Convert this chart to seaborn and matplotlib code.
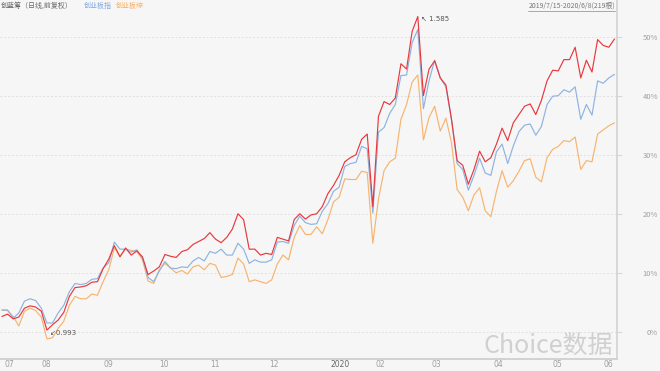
import numpy as np
import pandas as pd
import seaborn as sns
import matplotlib.pyplot as plt
from matplotlib.lines import Line2D

# trading-day index (every 2nd day of the 219 days, 2019/7/15 - 2020/6/8)
day = list(range(0, 219, 2))

# % change since start
red = [
    2.6, 3.0, 2.2, 2.5, 4.0, 4.4, 4.2, 3.5, 0.3, 1.2,
    2.0, 3.3, 6.0, 7.5, 7.6, 7.8, 8.4, 8.5, 10.7, 12.3,
    14.6, 12.7, 14.2, 13.0, 13.7, 12.7, 9.7, 10.3, 11.0, 13.1,
    12.8, 12.6, 13.6, 13.9, 14.8, 15.3, 15.8, 16.8, 15.7, 15.1,
    16.0, 17.4, 20.0, 19.0, 14.0, 14.0, 13.0, 13.3, 13.1, 16.0,
    15.7, 15.4, 19.0, 20.0, 19.1, 19.8, 20.0, 21.2, 23.4, 24.8,
    26.5, 28.8, 29.5, 30.0, 32.6, 33.5, 21.2, 36.5, 39.0, 38.5,
    39.6, 45.4, 44.5, 50.9, 53.4, 40.0, 44.5, 45.9, 43.0, 41.8,
    36.0, 29.0, 28.2, 25.0, 27.5, 30.6, 28.8, 29.5, 31.8, 34.5,
    32.4, 35.4, 36.8, 38.2, 38.6, 36.8, 39.2, 42.5, 44.3, 44.2,
    46.1, 46.1, 48.2, 43.0, 46.0, 44.0, 49.5, 48.5, 48.2, 49.6,
]
blue = [
    3.7, 3.7, 2.3, 3.2, 5.2, 5.6, 5.3, 4.0, 1.5, 1.5,
    3.2, 4.5, 6.8, 8.2, 8.0, 8.2, 8.9, 9.0, 10.8, 11.7,
    15.2, 14.0, 14.0, 13.5, 13.9, 12.5, 9.2, 8.5, 10.3, 11.9,
    10.8, 10.7, 11.0, 10.9, 12.0, 12.6, 12.0, 13.6, 13.3, 14.0,
    13.0, 13.0, 15.0, 14.0, 11.6, 12.2, 11.8, 11.8, 12.2, 15.2,
    15.3, 15.0, 18.0, 19.6, 18.5, 18.2, 18.3, 20.4, 21.7, 23.8,
    24.5, 28.0, 28.5, 28.7, 31.4, 31.0, 20.1, 33.8, 34.6, 37.0,
    38.5, 43.4, 43.5, 49.0, 51.2, 37.8, 42.5, 46.0, 43.0, 41.5,
    35.9, 28.5, 27.5, 24.0, 26.5, 29.4, 26.9, 26.5, 30.5, 31.8,
    28.5, 31.5, 33.9, 35.0, 35.2, 33.3, 34.8, 38.5, 39.9, 40.0,
    41.0, 40.6, 41.5, 36.0, 38.5, 36.7, 42.5, 42.1, 43.0, 43.6,
]
orange = [
    3.7, 3.6, 2.6, 1.0, 3.5, 4.0, 3.6, 2.5, -1.2, -1.0,
    0.6, 1.8, 4.5, 6.0, 5.6, 5.6, 6.4, 6.2, 8.5, 10.5,
    14.2, 12.8, 14.0, 13.8, 13.6, 12.2, 8.6, 8.2, 10.5, 11.6,
    10.8, 10.0, 10.4, 9.8, 11.0, 11.3, 10.5, 11.6, 11.3, 9.2,
    9.4, 9.7, 12.5, 11.5, 8.5, 8.8, 8.5, 8.2, 8.8, 11.5,
    13.0, 12.2, 16.0, 18.0, 16.5, 16.5, 17.8, 16.6, 19.0, 22.0,
    22.8, 25.9, 25.8, 25.8, 27.2, 27.0, 15.0, 22.5, 27.3, 28.8,
    29.4, 36.0, 38.5, 42.3, 43.5, 32.5, 36.3, 38.2, 34.0, 36.2,
    32.0, 24.1, 22.8, 20.5, 23.2, 24.4, 20.5, 19.5, 23.8, 27.3,
    24.5, 25.6, 27.2, 29.0, 29.3, 26.2, 25.4, 29.5, 30.9, 31.4,
    32.4, 32.2, 33.0, 27.5, 29.0, 28.8, 33.5, 34.2, 34.9, 35.4,
]

colors = {"创蓝筹": "#e8383d", "创业板指": "#8db3e2", "创业板综": "#f7b46e"}

month_idx = [0, 13, 35, 55, 73, 94, 116, 132, 152, 174, 195, 213]
month_labels = ["07", "08", "09", "10", "11", "12", "2020", "02", "03", "04", "05", "06"]
pct_ticks = [0, 10, 20, 30, 40, 50]

df = pd.DataFrame({
    "day": day * 3,
    "pct": orange + blue + red,
    "series": ["创业板综"] * len(day) + ["创业板指"] * len(day) + ["创蓝筹"] * len(day),
})

sns.set_style("white")
plt.rcParams['font.family'] = ['Noto Sans CJK SC', 'DejaVu Sans']
bg = "#f6f6f6"

fig = plt.figure(figsize=(6.6, 3.71), dpi=100, facecolor=bg)
ax = fig.add_axes([0, 12 / 371, 617 / 660, 359 / 371])
ax.set_facecolor(bg)

sns.lineplot(data=df, x="day", y="pct", hue="series",
             hue_order=["创业板综", "创业板指", "创蓝筹"], palette=colors,
             linewidth=0.85, legend=False, estimator=None, sort=False, ax=ax)

ax.set_xlim(-0.7, 218.9)
ax.set_ylim(-4.6, 56.2)
ax.set_xlabel("")
ax.set_ylabel("")

for s in ["top", "left"]:
    ax.spines[s].set_visible(False)
ax.spines["bottom"].set_color("#d2d2d2")
ax.spines["bottom"].set_linewidth(1.4)
ax.spines["right"].set_color("#d2d2d2")
ax.spines["right"].set_linewidth(1.2)

# y axis on right
ax.yaxis.tick_right()
ax.set_yticks(pct_ticks)
ax.set_yticklabels([f"{v}%" for v in pct_ticks], ha="right")
ax.tick_params(axis="y", length=3.6, color="#d8d8d8", labelcolor="#a0a0a0",
               labelsize=5.5, pad=26)
ax.yaxis.grid(True, color="#e0e0e0", linestyle=(0, (2, 2)), linewidth=0.7)
ax.xaxis.grid(False)

# x ticks, labels drawn to the right of each tick
ax.set_xticks(month_idx)
ax.set_xticklabels([])
ax.tick_params(axis="x", length=3, color="#c8c8c8", direction="out")
for pos, lab in zip(month_idx, month_labels):
    ax.text(pos + 1.0, -0.016, lab, transform=ax.get_xaxis_transform(),
            fontsize=5.5, color="#666666" if lab == "2020" else "#a0a0a0",
            ha="left", va="center", family="DejaVu Sans")

# max / min annotations on main series
i_max = int(np.argmax(red))
i_min = int(np.argmin(red))
ax.annotate("↖ 1.585", xy=(day[i_max], red[i_max]), xytext=(2, -1.5),
            textcoords="offset points", fontsize=5, color="#555555",
            ha="left", va="center", family="DejaVu Sans")
ax.annotate("↙0.993", xy=(day[i_min], red[i_min]), xytext=(2, -2),
            textcoords="offset points", fontsize=5, color="#555555",
            ha="left", va="center", family="DejaVu Sans")

# title row
fig.text(1 / 660, 1 - 6 / 371, "创蓝筹（日线,前复权）", fontsize=5, color="#666666",
         ha="left", va="center")
fig.text(84 / 660, 1 - 6 / 371, "创业板指", fontsize=5, color="#7fa9e0",
         ha="left", va="center")
fig.text(116 / 660, 1 - 6 / 371, "创业板综", fontsize=5, color="#f7ad62",
         ha="left", va="center")
dt = fig.text(615 / 660, 1 - 6 / 371, "2019/7/15-2020/6/8(219根)", fontsize=5,
              color="#777777", ha="right", va="center")

# watermark
fig.text(613 / 660, 25 / 371, "Choice数据", fontsize=18, color="#d0d0d0",
         ha="right", va="center")

fig.canvas.draw()
bb = dt.get_window_extent()
fig.add_artist(Line2D([bb.x0 / 660, bb.x1 / 660], [(bb.y0 - 0.5) / 371] * 2,
                      color="#888888", linewidth=0.5, transform=fig.transFigure))

fig.savefig("out.png", dpi=100, facecolor=bg)
